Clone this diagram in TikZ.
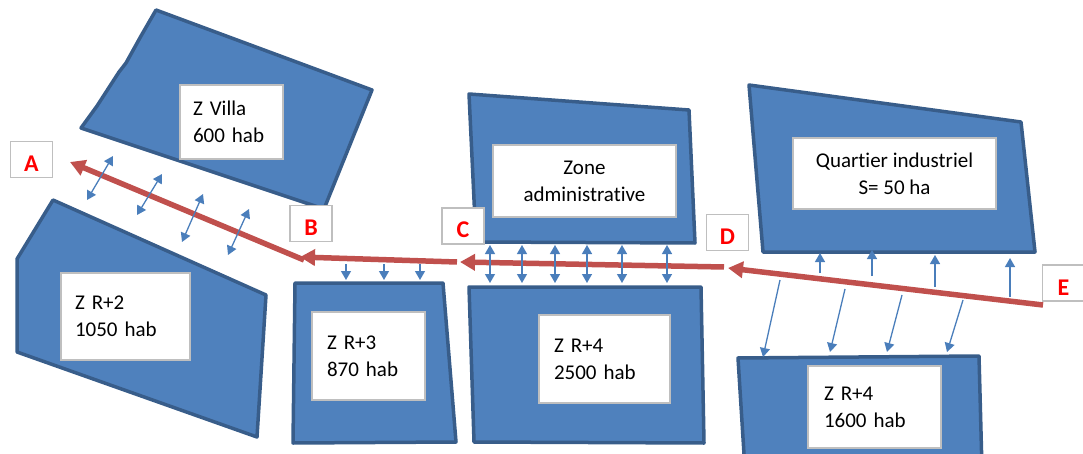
\documentclass[tikz,border=0pt]{standalone}
\usepackage{fontspec}
\setmainfont{Carlito}[Ligatures=NoCommon]
\usetikzlibrary{arrows.meta}
\definecolor{zonefill}{HTML}{4F81BD}
\definecolor{zoneline}{HTML}{385D8A}
\definecolor{roadred}{HTML}{C0504D}
\definecolor{linkblue}{HTML}{4A7EBB}
\begin{document}
\begin{tikzpicture}[x=1pt,y=-1pt,
        zone/.style={fill=zonefill,draw=zoneline,line width=3.5pt,line join=round},
        infobox/.style={draw=black!25,line width=1.2pt,fill=white,inner sep=0pt,
            font=\fontsize{21}{27}\selectfont},
        pointbox/.style={draw=black!25,line width=1.2pt,fill=white,inner sep=0pt,
            minimum width=42pt,minimum height=36pt,text height=24pt,
            text=red,font=\fontsize{24}{28}\selectfont\bfseries},
        road/.style={roadred,line width=5.5pt,-{Triangle[length=15pt,width=16pt]}},
        link/.style={linkblue,line width=1.3pt,-{Triangle[length=9pt,width=10pt]}},
        dlink/.style={link,{Triangle[length=9pt,width=10pt]}-{Triangle[length=9pt,width=10pt]}}]
            \useasboundingbox(0,0)rectangle(1083,454);
            % zones
            \draw[zone](156,10)--(372,90)--(324,209)--(81,128)--(97,106)--(119,72)--(126,63)--(141,36)--cycle;
            \draw[zone](53,200)--(266,295)--(257,437)--(17,352)--(17,259)--cycle;
            \draw[zone](295,283)--(443,283)--(456,442)--(293,443)--cycle;
            \draw[zone](469,94)--(689,110)--(695,243)--(476,242)--cycle;
            \draw[zone](469,287)--(701,287)--(704,443)--(474,442)--cycle;
            \draw[zone](749,85)--(1021,122)--(1035,252)--(763,252)--cycle;
            \draw[zone](738,358)--(979,356)--(982,470)--(745,470)--cycle;
            % zone captions
            \node[infobox,minimum width=103pt,minimum height=74pt,text width=77pt,align=left](villa)at(231.5,122){Z Villa\\600 hab};
            \node[infobox,minimum width=129pt,minimum height=87pt,text width=101pt,align=left](rdeux)at(125.5,316.5){Z R+2\\1050 hab};
            \node[infobox,minimum width=113pt,minimum height=88pt,text width=83pt,align=left](rtrois)at(368.5,356){Z R+3\\870 hab};
            \node[infobox,minimum width=183pt,minimum height=72pt,align=center](admin)at(584.5,181){Zone\\administrative};
            \node[infobox,minimum width=131pt,minimum height=88pt,text width=101pt,align=left](rquatre)at(604.5,359){Z R+4\\2500 hab};
            \node[infobox,minimum width=203pt,minimum height=71pt,align=center](indus)at(894.5,173.5){Quartier industriel\\S= 50 ha};
            \node[infobox,minimum width=133pt,minimum height=82pt,text width=101pt,align=left](rquatreb)at(874.5,407){Z R+4\\1600 hab};
            % main road, from E back to A
            \coordinate(e0)at(1043,305);
            \coordinate(d1)at(728,268);
            \coordinate(d0)at(724,267);
            \coordinate(c1)at(460,262);
            \coordinate(c0)at(457,262);
            \coordinate(b1)at(300,257);
            \coordinate(b0)at(304,260);
            \coordinate(a1)at(70,162);
            \draw[road](e0)--(d1);
            \draw[road](d0)--(c1);
            \draw[road](c0)--(b1);
            \draw[road](b0)--(a1);
            % accesses to the zones
            \foreach \xa/\ya/\xb/\yb in {87/200/113/156,137/215/162/174,182/242/203/194,228/255/249/209}
                \draw[dlink](\xa,\ya)--(\xb,\yb);
            \foreach \xa in {346,384,420}
                \draw[link](\xa,264)--(\xa,280);
            \foreach \xa in {490,522,555,587,622,667}
                \draw[dlink](\xa,245)--(\xa,283);
            \foreach \xa/\ya/\yb in {820/273/253,872/276/250,935/287/255,1010/297/258}
                \draw[link](\xa,\ya)--(\xa,\yb);
            \foreach \xa/\ya/\xb/\yb in {780/280/763/357,845/289/830/352,902/295/887/352,963/300/947/352}
                \draw[link](\xa,\ya)--(\xb,\yb);
            % points of the route
            \node[pointbox](ptA)at(31.5,159.5){A};
            \node[pointbox](ptB)at(311,223.5){B};
            \node[pointbox](ptC)at(463,226){C};
            \node[pointbox](ptD)at(727.5,232.5){D};
            \node[pointbox](ptE)at(1063.5,283){E};
\end{tikzpicture}
\end{document}
